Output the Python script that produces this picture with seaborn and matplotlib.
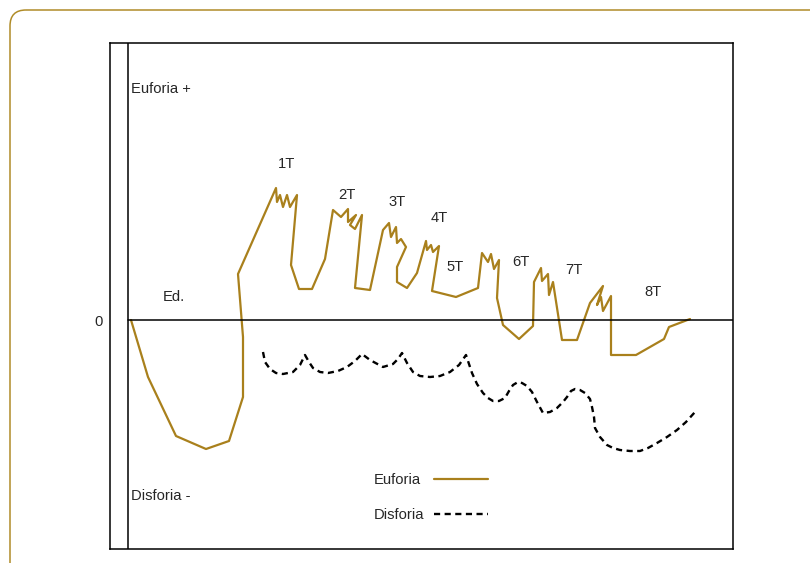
import matplotlib
matplotlib.use("Agg")
import matplotlib.pyplot as plt
from matplotlib.patches import FancyBboxPatch
import seaborn as sns
import pandas as pd

sns.set_style("white")
plt.rcParams['font.family'] = ['Liberation Sans', 'DejaVu Sans']

# ---- data (time vs mood) ----
euforia_t = [3, 20, 48, 78, 101, 115, 115, 110, 148, 149, 152, 155, 159, 162, 169, 163,
             171, 184, 197, 205, 213, 220, 220, 228, 222, 227, 234, 227, 242, 255, 261,
             263, 268, 269, 273, 278, 269, 269, 279, 289, 298, 299, 303, 305, 311, 304,
             328, 350, 354, 360, 363, 366, 371, 369, 375, 391, 405, 406, 413, 414, 420,
             421, 425, 434, 449, 462, 475, 469, 473, 475, 483, 483, 508, 536, 541, 562]
euforia_v = [0, -57, -116, -129, -121, -77, -17, 46, 132, 118, 125, 113, 125, 113, 125, 55,
             31, 31, 61, 110, 103, 111, 98, 105, 95, 91, 105, 32, 30, 90, 97,
             83, 93, 77, 81, 73, 53, 38, 32, 47, 79, 70, 75, 68, 74, 29,
             23, 32, 67, 58, 66, 51, 60, 22, -5, -19, -6, 38, 52, 39, 46,
             25, 38, -20, -20, 17, 34, 15, 23, 9, 24, -35, -35, -19, -7, 1]

disforia_t = [135, 137, 142, 148, 155, 165, 172, 177, 181, 185, 192, 200, 210, 219, 227,
              234, 242, 255, 265, 270, 274, 279, 285, 292, 302, 312, 322, 331, 338, 341,
              344, 349, 355, 360, 365, 371, 377, 381, 385, 390, 394, 399, 404, 409, 415,
              422, 429, 435, 439, 443, 447, 452, 457, 462, 464, 466, 467, 472, 479, 485,
              492, 502, 512, 520, 529, 539, 549, 558, 567]
disforia_v = [-32, -42, -49, -53, -54, -52, -45, -35, -42, -48, -52, -53, -51, -47, -41,
              -34, -40, -47, -44, -39, -33, -43, -52, -56, -57, -56, -52, -45, -35, -44,
              -53, -64, -73, -78, -81, -81, -78, -71, -65, -62, -63, -66, -72, -82, -93,
              -92, -88, -82, -77, -71, -69, -70, -73, -79, -87, -97, -108, -117, -125, -128,
              -130, -131, -131, -128, -123, -117, -110, -102, -92]

phase_labels = ["Ed.", "1T", "2T", "3T", "4T", "5T", "6T", "7T", "8T"]
phase_t = [46, 159, 219, 269, 311, 327, 393, 446, 525]
phase_v = [23, 156, 125, 118, 102, 53, 58, 50, 28]

series_names = ["Euforia", "Disforia"]
axis_labels = ["Euforia +", "Disforia -"]

GOLD = "#a9801c"
W, H = 810, 563
fig = plt.figure(figsize=(W / 100, H / 100), dpi=100)

# outer rounded frame
bg = fig.add_axes([0, 0, 1, 1], zorder=0)
bg.set_xlim(0, W)
bg.set_ylim(H, 0)
bg.axis("off")
bg.add_patch(FancyBboxPatch((10, 10), 830, 600, boxstyle="round,pad=0,rounding_size=16",
                            fill=False, edgecolor="#b08c28", linewidth=1.1))

ax = fig.add_axes([110 / W, 1 - 549 / H, (733 - 110) / W, (549 - 43) / H], zorder=1)
ax.set_facecolor("none")

df_e = pd.DataFrame({"t": euforia_t, "v": euforia_v})
df_d = pd.DataFrame({"t": disforia_t, "v": disforia_v})
sns.lineplot(data=df_e, x="t", y="v", sort=False, estimator=None, color=GOLD,
             linewidth=1.6, ax=ax, label=series_names[0])
sns.lineplot(data=df_d, x="t", y="v", sort=False, estimator=None, color="black",
             linewidth=1.7, linestyle=(0, (2.6, 1.9)), ax=ax, label=series_names[1])

ax.set_xlim(-18, 605)
ax.set_ylim(-229, 277)
ax.axvline(0, color="black", linewidth=1.1)
ax.axhline(0, xmin=18 / 623, xmax=1, color="black", linewidth=1.1)
for s in ax.spines.values():
    s.set_visible(True)
    s.set_color("black")
    s.set_linewidth(1.1)
ax.set_xticks([])
ax.set_yticks([])
ax.set_xlabel("")
ax.set_ylabel("")

fs = 10.6
ax.text(3, 231, axis_labels[0], fontsize=fs, ha="left", va="center")
ax.text(3, -176, axis_labels[1], fontsize=fs, ha="left", va="center")
ax.text(-29, -2, "0", fontsize=fs, ha="center", va="center", clip_on=False)
for lab, t, v in zip(phase_labels, phase_t, phase_v):
    ax.text(t, v, lab, fontsize=fs, ha="center", va="center")

leg = ax.legend(loc="upper left", bbox_to_anchor=(374 / W, 1 - 473 / H),
                bbox_transform=fig.transFigure, frameon=False, markerfirst=False,
                fontsize=fs, handlelength=3.7, handletextpad=0.15, labelspacing=1.45,
                borderpad=0, borderaxespad=0)
# left-align the labels, keep the handles flush on the right
try:
    for col in leg._legend_handle_box.get_children():
        for row in col.get_children():
            row.mode = "expand"
            row.width = 114
except Exception:
    pass

fig.savefig("out.png", dpi=100)
